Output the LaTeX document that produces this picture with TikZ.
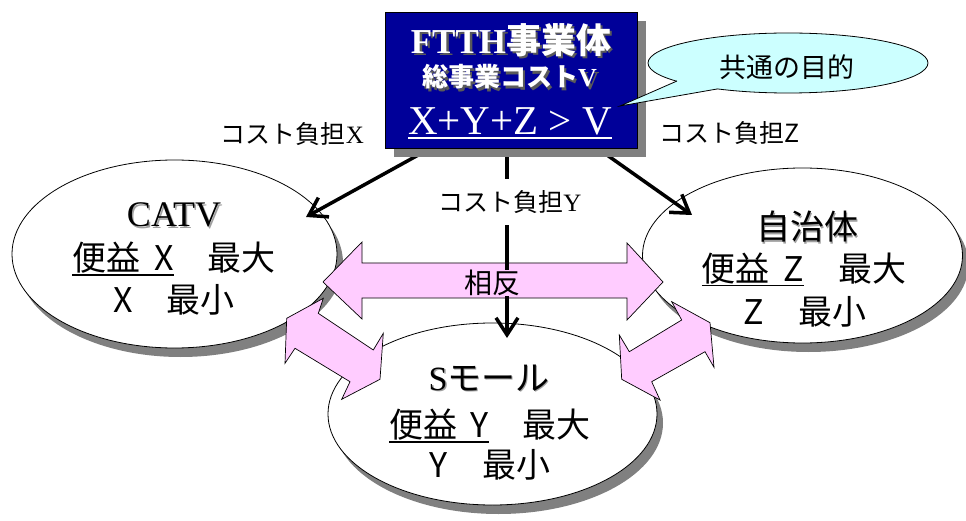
\documentclass[tikz,border=0pt]{standalone}
\usepackage{fontspec}
\setmainfont{Liberation Serif}
\newfontfamily\jp{Noto Sans CJK JP}
\usetikzlibrary{arrows.meta,shapes.geometric}
\definecolor{navyf}{RGB}{0,0,153}
\definecolor{pinkf}{HTML}{FFCCFF}
\definecolor{cyanf}{HTML}{CCFFFF}
\definecolor{shad}{HTML}{808080}
\definecolor{tshad}{HTML}{5A5A5A}
\definecolor{lshad}{HTML}{A0A0A0}
\newcommand\myul[1]{\setbox0\hbox{#1}\rlap{\smash{\raisebox{-5pt}{\rule{\wd0}{1.8pt}}}}\box0}
\newcommand\shtxt[3]{\rlap{\smash{\textcolor{#1}{\raisebox{-#2}{\kern#2 #3}}}}#3}
\newcommand\bodyfont{\jp\fontsize{34}{40}\selectfont}
\newcommand\labfont{\fontsize{25}{30}\selectfont}
\begin{document}
\begin{tikzpicture}[x=1pt,y=-1pt,
  ell/.style={ellipse, draw=black, line width=0.8pt, fill=white, inner sep=0pt},
  esh/.style={ellipse, fill=shad, inner sep=0pt},
  pinkarr/.style={fill=pinkf, draw=black, line width=0.7pt, line join=miter},
  blk/.style={line width=3.5pt, -{Straight Barb[length=17pt,width=22pt]}},
  txt/.style={inner sep=0pt, anchor=center},
  boxst/.style={draw=black, line width=0.8pt, fill=navyf, minimum width=252pt, minimum height=136pt, inner sep=0pt},
  boxsh/.style={fill=shad, minimum width=252pt, minimum height=136pt, inner sep=0pt}]
\useasboundingbox (0,0) rectangle (966,521);
\fill[white] (0,0) rectangle (966,521);

% ellipses with shadows
\node[esh, minimum width=325pt, minimum height=188pt] (catvsh) at (180.5,263) {};
\node[ell, minimum width=325pt, minimum height=188pt] (catv) at (174.5,254) {};
\node[esh, minimum width=320pt, minimum height=175pt] (jichish) at (808.5,264.5) {};
\node[ell, minimum width=320pt, minimum height=175pt] (jichi) at (802.5,255.5) {};
\node[esh, minimum width=329pt, minimum height=182pt] (smolsh) at (498.5,423) {};
\node[ell, minimum width=329pt, minimum height=182pt] (smol) at (492.5,414) {};

% ellipse texts
\node[txt] (catvt) at (174,215) {\fontsize{36}{40}\selectfont\shtxt{lshad}{1.5pt}{CATV}};
\node[txt] (catv2) at (174,258) {\bodyfont\myul{便益\hspace{0.4em}X}　最大};
\node[txt] (catv3) at (174,300) {\bodyfont X　最小};

\node[txt] (jichit) at (807,227) {\bodyfont\shtxt{lshad}{1.5pt}{自治体}};
\node[txt] (jichi2) at (804,268.5) {\bodyfont\myul{便益\hspace{0.4em}Z}　最大};
\node[txt] (jichi3) at (805,311.5) {\bodyfont Z　最小};

\node[txt] (smolt) at (489,378) {\fontsize{34}{40}\selectfont\shtxt{lshad}{1.5pt}{S{\jp モール}}};
\node[txt] (smol2) at (490,425) {\bodyfont\myul{便益\hspace{0.4em}Y}　最大};
\node[txt] (smol3) at (490,465) {\bodyfont Y　最小};

% pink double arrows
\filldraw[pinkarr] (323,282) -- (362,242) -- (362,263) -- (627,263) -- (627,243) -- (663,282)
  -- (627,320) -- (627,298) -- (362,298) -- (362,319) -- cycle;
\filldraw[pinkarr] (323.3,298.3) -- (318.3,313.3) -- (373.3,350) -- (383.3,333.3) -- (380,379.3)
  -- (341.7,399.3) -- (350,381.7) -- (295,348.3) -- (285,363.3) -- (286.7,318.3) -- cycle;
\filldraw[pinkarr] (671.7,301.7) -- (710,322.7) -- (714,367.3) -- (705,351.7) -- (651.7,381.7)
  -- (660,400) -- (621.7,379.3) -- (619.3,335) -- (629.3,351.7) -- (681.7,320) -- cycle;

% black arrows
\coordinate (ls) at (440,143);
\coordinate (le) at (306,217);
\coordinate (rs) at (590,143);
\coordinate (re) at (692,215);
\coordinate (ms) at (507,145);
\coordinate (me) at (507,338);
\draw[blk] (ls) -- (le);
\draw[blk] (rs) -- (re);
\draw[blk] (ms) -- (me);

\node[txt, fill=pinkf] (sohan) at (492,283) {\jp\fontsize{28}{30}\selectfont 相反};

% top box
\node[boxsh] (ftthsh) at (520,89) {};
\node[boxst] (ftth) at (511,80) {};
\node[txt, text=white] (t1) at (511,40) {\fontsize{35}{38}\selectfont\shtxt{tshad}{2.5pt}{\bfseries FTTH{\jp\bfseries 事業体}}};
\node[txt, text=white] (t2) at (509.5,77) {\fontsize{26}{30}\selectfont\shtxt{tshad}{2.5pt}{{\jp\bfseries 総事業コスト}\bfseries V}};
\node[txt, text=white] (t3) at (510,121) {\fontsize{41}{44}\selectfont X+Y+Z \textgreater{} V};
\draw[white, line width=2.5pt] (408,138) -- (612,138);

% callout
\node[ellipse, draw=black, line width=0.8pt, fill=cyanf, inner sep=0pt, minimum width=280pt, minimum height=60pt] (goal) at (788,63) {};
\coordinate (ta) at (677,81);
\coordinate (tt) at (620,106);
\coordinate (tb) at (717,89);
\fill[cyanf] (ta) -- (tt) -- (tb) -- (717,78) -- (677,74) -- cycle;
\draw[line width=0.8pt, line join=miter] (ta) -- (tt) -- (tb);
\node[txt] (goalt) at (786.5,67.5) {\jp\fontsize{27}{30}\selectfont 共通の目的};

% labels
\node[txt] (labx) at (292.5,134) {\labfont{\jp コスト負担}X};
\node[txt] (labz) at (730,133) {\labfont{\jp コスト負担Z}};
\node[txt, fill=white, inner xsep=2pt, inner ysep=11pt] (laby) at (510,202) {\labfont{\jp コスト負担}Y};
\end{tikzpicture}
\end{document}
